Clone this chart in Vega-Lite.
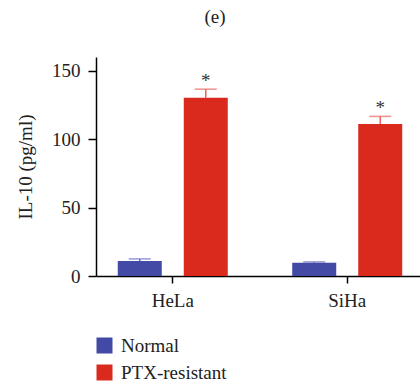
{
  "$schema": "https://vega.github.io/schema/vega-lite/v6.json",
  "autosize": "none",
  "width": 328,
  "height": 219,
  "padding": {"left": 96, "top": 57, "right": 0, "bottom": 113},
  "background": "white",
  "title": {"text": "(e)", "font": "Liberation Serif", "fontSize": 19, "fontWeight": "normal", "color": "#222", "anchor": "middle", "dx": -45, "offset": 30},
  "config": {
    "view": {"stroke": null},
    "font": "Liberation Serif"
  },
  "resolve": {"scale": {"color": "independent"}, "legend": {"color": "independent"}},
  "data": {"values": [
    {"cell": "HeLa", "group": "Normal", "value": 11, "upper": 12.5, "star": ""},
    {"cell": "HeLa", "group": "PTX-resistant", "value": 130.2, "upper": 136.5, "star": "*"},
    {"cell": "SiHa", "group": "Normal", "value": 9.6, "upper": 10.3, "star": ""},
    {"cell": "SiHa", "group": "PTX-resistant", "value": 111, "upper": 116.6, "star": "*"}
  ]},
  "encoding": {
    "x": {"field": "cell", "type": "nominal", "sort": ["HeLa", "SiHa"],
      "scale": {"paddingInner": 0.2, "paddingOuter": 0.04},
      "axis": {"title": null, "labelAngle": 0, "labelFont": "Liberation Serif", "labelFontSize": 19, "labelColor": "#222", "domainColor": "#000", "domainWidth": 1.5, "tickColor": "#000", "tickWidth": 1.5, "tickSize": 7, "labelPadding": 8}},
    "xOffset": {"field": "group", "type": "nominal", "sort": ["Normal", "PTX-resistant"], "scale": {"paddingInner": 0.3333, "paddingOuter": 0.224}}
  },
  "layer": [
    {
      "mark": {"type": "rule", "strokeWidth": 1.5},
      "encoding": {
        "y": {"field": "value", "type": "quantitative"},
        "y2": {"field": "upper"},
        "color": {"field": "group", "type": "nominal", "scale": {"domain": ["Normal", "PTX-resistant"], "range": ["#6a6fc0", "#e8625a"]}, "legend": null}
      }
    },
    {
      "mark": {"type": "tick", "thickness": 1.5, "size": 22, "orient": "horizontal"},
      "encoding": {
        "y": {"field": "upper", "type": "quantitative"},
        "color": {"field": "group", "type": "nominal", "scale": {"domain": ["Normal", "PTX-resistant"], "range": ["#6a6fc0", "#e8625a"]}, "legend": null}
      }
    },
    {
      "mark": {"type": "bar"},
      "encoding": {
        "y": {"field": "value", "type": "quantitative",
          "scale": {"domain": [0, 150]},
          "axis": {"title": "IL-10 (pg/ml)", "values": [0, 50, 100, 150], "grid": false, "titleFont": "Liberation Serif", "titleFontSize": 19, "titleFontWeight": "normal", "titleColor": "#222", "titlePadding": 16, "labelFont": "Liberation Serif", "labelFontSize": 19, "labelColor": "#222", "domainColor": "#000", "domainWidth": 1.5, "tickColor": "#000", "tickWidth": 1.5, "tickSize": 8, "labelPadding": 8}},
        "color": {"field": "group", "type": "nominal", "title": null,
          "scale": {"domain": ["Normal", "PTX-resistant"], "range": ["#434aa5", "#da2a1e"]},
          "legend": {"orient": "none", "legendX": -1, "legendY": 279, "symbolType": "square", "symbolSize": 256, "symbolStrokeWidth": 0, "labelFont": "Liberation Serif", "labelFontSize": 19, "labelColor": "#222", "rowPadding": 7, "labelOffset": 7}}
      }
    },
    {
      "mark": {"type": "text", "font": "Liberation Serif", "fontSize": 19, "color": "#333", "baseline": "alphabetic", "dy": -2},
      "encoding": {
        "y": {"field": "upper", "type": "quantitative"},
        "text": {"field": "star"}
      }
    }
  ]
}
